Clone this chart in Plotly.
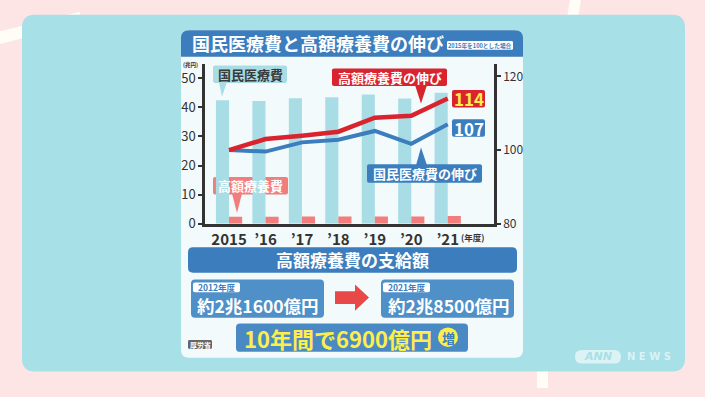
import plotly.graph_objects as go

# ---------------- data ----------------
years = ["2015", "’16", "’17", "’18", "’19", "’20", "’21"]
kokumin_iryohi = [42.4, 42.1, 43.1, 43.4, 44.4, 43.0, 45.0]      # 国民医療費 (兆円)
kougaku_ryoyohi = [2.4, 2.4, 2.5, 2.5, 2.5, 2.5, 2.7]             # 高額療養費 (兆円)
kougaku_index = [100, 103.0, 103.9, 105.0, 108.8, 109.3, 114]     # 高額療養費の伸び (2015=100)
kokumin_index = [100, 99.6, 102.1, 102.8, 105.2, 101.7, 107]      # 国民医療費の伸び (2015=100)
left_ticks = [0, 10, 20, 30, 40, 50]
right_ticks = [80, 100, 120]
before_label, before_value = "2012年度", "約2兆1600億円"
after_label, after_value = "2021年度", "約2兆8500億円"
increase_text = "10年間で6900億円"

W, H = 705, 397
FONT = "Noto Sans CJK JP"

BLUE = "#3b7dbd"
BOX = "#5090c8"
RED = "#d9232e"
TEAL_BAR = "#a9dde6"
PINK_BAR = "#f27d7d"
CARD = "#f3fafc"
PANEL = "#a7e0e7"
BG = "#fde5e6"
YELLOW = "#fdee4c"
DARK = "#333333"


def P(x, y):
    return f"{x / W:.5f},{1 - y / H:.5f}"


def rr_path(x0, y0, x1, y1, r, top=True, bottom=True):
    rt = r if top else 0
    rb = r if bottom else 0
    p = f"M {P(x0 + rt, y0)} L {P(x1 - rt, y0)} "
    if rt:
        p += f"Q {P(x1, y0)} {P(x1, y0 + rt)} "
    p += f"L {P(x1, y1 - rb)} "
    if rb:
        p += f"Q {P(x1, y1)} {P(x1 - rb, y1)} "
    p += f"L {P(x0 + rb, y1)} "
    if rb:
        p += f"Q {P(x0, y1)} {P(x0, y1 - rb)} "
    p += f"L {P(x0, y0 + rt)} "
    if rt:
        p += f"Q {P(x0, y0)} {P(x0 + rt, y0)} "
    return p + "Z"


def poly(pts):
    return "M " + " L ".join(P(x, y) for x, y in pts) + " Z"


shapes = []


def add_shape(path, color, layer="below"):
    shapes.append(dict(type="path", path=path, xref="paper", yref="paper",
                       fillcolor=color, line=dict(width=0), layer=layer))


annotations = []


def text(x, y, s, size, color, bold=True, anchor="center", italic=False, family=FONT):
    t = f"<b>{s}</b>" if bold else s
    if italic:
        t = f"<i>{t}</i>"
    annotations.append(dict(x=x / W, y=1 - y / H, xref="paper", yref="paper",
                            text=t, showarrow=False, xanchor=anchor, yanchor="middle",
                            font=dict(family=family, size=size, color=color)))


# background decorations
add_shape(poly([(0, 32), (80, 12), (80, 24), (0, 45)]), "#fffdf6")
add_shape(poly([(570, 0), (581, 0), (578, 18), (567, 18)]), "#fffdf6")
add_shape(poly([(537, 375), (548, 375), (548, 397), (537, 397)]), "#fffdf6")
# teal panel
add_shape(rr_path(22, 15, 685, 380, 13), PANEL)
# white card
add_shape(rr_path(181, 31, 523, 366, 8), CARD)
# title bar
add_shape(rr_path(181, 31, 523, 58, 8, top=True, bottom=False), BLUE)
add_shape(rr_path(447, 42, 513, 51, 1.5), "#ffffff")

# chart labels boxes
add_shape(rr_path(213, 67, 287, 85, 2), TEAL_BAR)
add_shape(poly([(219, 84), (227, 84), (222, 99)]), TEAL_BAR, layer="above")
add_shape(rr_path(213, 181, 288, 199, 2), PINK_BAR)
add_shape(poly([(232, 198), (242, 198), (237, 218)]), PINK_BAR, layer="above")
add_shape(rr_path(332, 70, 447, 88, 2), RED, layer="above")
add_shape(poly([(415, 87), (427, 87), (421, 106)]), RED, layer="above")
add_shape(rr_path(367, 168, 482, 187, 2), BLUE, layer="above")
add_shape(poly([(416, 169), (427, 169), (421, 151)]), BLUE, layer="above")
add_shape(rr_path(452, 92, 485, 110, 2), RED, layer="above")
add_shape(rr_path(452, 122, 485, 140, 2), BLUE, layer="above")

# bottom section
add_shape(rr_path(188, 253, 517, 279, 5), BLUE)
add_shape(rr_path(191, 286, 324, 325, 4), BOX)
add_shape(rr_path(381, 286, 514, 325, 4), BOX)
add_shape(rr_path(193, 289, 240, 299, 2), "#ffffff")
add_shape(rr_path(383, 289, 430, 299, 2), "#ffffff")
add_shape(poly([(335, 298), (355, 298), (355, 291), (369, 304.5), (355, 318), (355, 311), (335, 311)]), "#e94848")
add_shape(rr_path(236, 331, 468, 360, 4), "#4a8ac4")
shapes.append(dict(type="circle", xref="paper", yref="paper",
                   x0=438 / W, x1=458 / W, y0=1 - 355 / H, y1=1 - 335 / H,
                   fillcolor=YELLOW, line=dict(width=0), layer="below"))
add_shape(rr_path(188, 348, 212, 357, 1.5), "#666666")

# ANN NEWS logo
add_shape(rr_path(575, 358, 621, 372, 7), "rgba(255,255,255,0.6)")

# ---------------- texts ----------------
text(190, 44.5, "国民医療費と高額療養費の伸び", 18, "#ffffff", anchor="left")
text(480, 46.5, "2015年を100とした場合", 5.7, BLUE)
text(190, 66, "(兆円)", 5.5, DARK)
text(472, 242, "(年度)", 8.5, DARK)
text(250, 76, "国民医療費", 13, "#3a3a3a")
text(250.5, 190, "高額療養費", 13, "#ffffff")
text(389.5, 79, "高額療養費の伸び", 13, "#ffffff")
text(424.5, 177.5, "国民医療費の伸び", 13, "#ffffff")
text(468.5, 101, f"{round(kougaku_index[-1])}", 17, YELLOW)
text(468.5, 131, f"{round(kokumin_index[-1])}", 17, "#ffffff")

text(352, 266, "高額療養費の支給額", 17, "#ffffff")
text(216.5, 294, before_label, 8.5, BLUE)
text(406.5, 294, after_label, 8.5, BLUE)
text(257.5, 313, before_value, 17.5, "#ffffff")
text(448.5, 313, after_value, 17.5, "#ffffff")
text(338, 345.5, increase_text, 22, YELLOW)
text(448, 345, "増", 13, BLUE)
text(200, 352.5, "厚労省", 7, "#ffffff")
text(598, 365, "ANN", 11, PANEL, italic=True, family="DejaVu Sans")
text(649, 365, "N E W S", 10, "rgba(255,255,255,0.6)", family="DejaVu Sans")

# ---------------- traces ----------------
fig = go.Figure()
fig.add_trace(go.Bar(x=years, y=kokumin_iryohi, marker=dict(color=TEAL_BAR, line=dict(width=0)),
                     name="国民医療費"))
fig.add_trace(go.Bar(x=years, y=kougaku_ryoyohi, marker=dict(color=PINK_BAR, line=dict(width=0)),
                     name="高額療養費"))
fig.add_trace(go.Scatter(x=years, y=kokumin_index, yaxis="y2", mode="lines",
                         line=dict(color=BLUE, width=4), name="国民医療費の伸び"))
fig.add_trace(go.Scatter(x=years, y=kougaku_index, yaxis="y2", mode="lines",
                         line=dict(color=RED, width=4.5), name="高額療養費の伸び"))

fig.update_layout(
    width=W, height=H,
    margin=dict(l=0, r=0, t=0, b=0),
    paper_bgcolor=BG,
    plot_bgcolor="rgba(0,0,0,0)",
    showlegend=False,
    barmode="group",
    bargap=0.28,
    bargroupgap=0,
    font=dict(family=FONT, color=DARK),
    xaxis=dict(domain=[205 / W, 494 / W], range=[-0.66, 7.27], showgrid=False,
               showline=True, linecolor=DARK, linewidth=2.5, ticks="",
               tickfont=dict(family=FONT, size=15, color=DARK, weight="bold"),
               fixedrange=True),
    yaxis=dict(domain=[1 - 229 / H, 1 - 65 / H], range=[0, 55], tickvals=left_ticks,
               showgrid=False, zeroline=False, showline=True, linecolor=DARK, linewidth=2.5,
               ticks="outside", ticklen=4, tickwidth=2, tickcolor=DARK,
               tickfont=dict(family=FONT, size=13, color=DARK)),
    yaxis2=dict(overlaying="y", side="right", range=[80, 123.5], tickvals=right_ticks,
                showgrid=False, zeroline=False, showline=True, linecolor=DARK, linewidth=2.5,
                ticks="outside", ticklen=4, tickwidth=2, tickcolor=DARK,
                tickfont=dict(family=FONT, size=12, color=DARK)),
    shapes=shapes,
    annotations=annotations,
)

fig.write_html("out.html", config={"displayModeBar": False},
               post_script="document.body.style.margin='0';document.body.style.overflow='hidden';")
